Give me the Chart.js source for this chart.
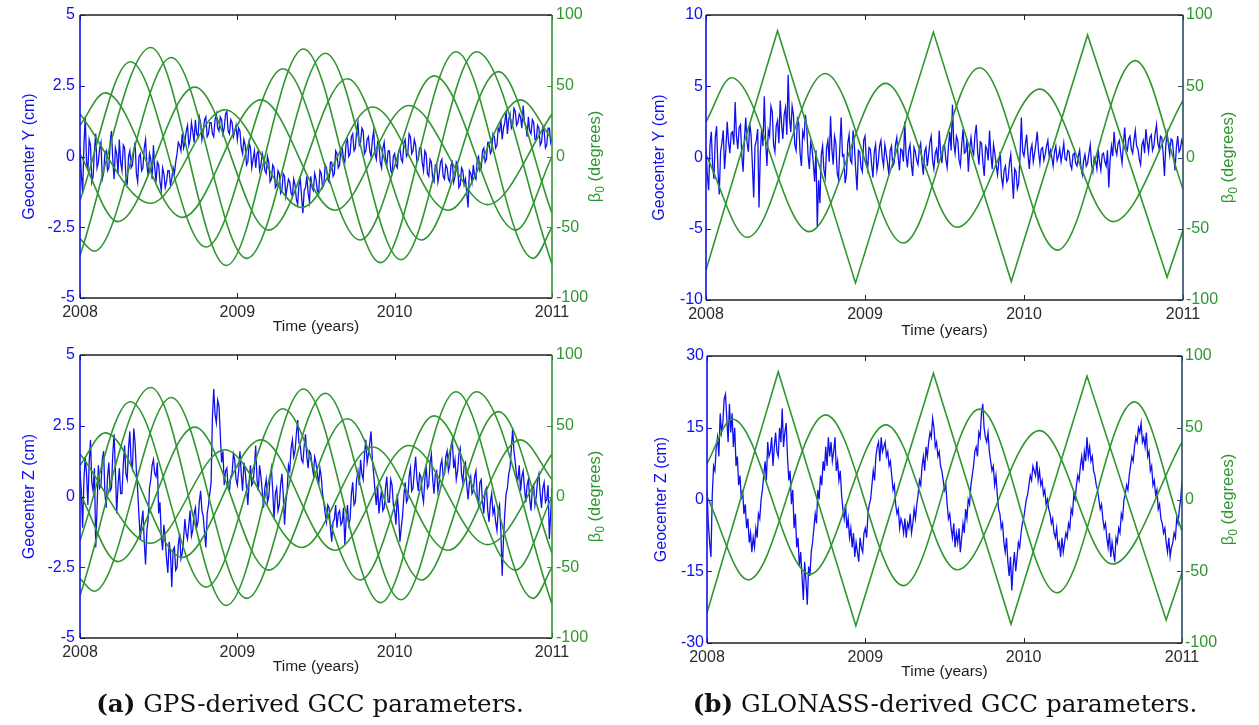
<!DOCTYPE html>
<html>
<head>
<meta charset="utf-8">
<script src="https://cdn.jsdelivr.net/npm/chart.js@4.4.1/dist/chart.umd.min.js"></script>
<style>
  body { margin: 0; background: #fff; }
  #wrap { position: relative; width: 1259px; height: 725px; overflow: hidden; background: #fff; }
  canvas { position: absolute; }
  .cap { position: absolute; top: 689px; line-height: 30px; font-family: "DejaVu Serif", serif; font-size: 24.6px; color: #111; text-align: center; white-space: nowrap; }
  .cap b { font-weight: bold; }
</style>
</head>
<body>
<div id="wrap">
  <canvas id="gpsY" width="640" height="345" style="left:0;top:0"></canvas>
  <canvas id="gpsZ" width="640" height="345" style="left:0;top:340px"></canvas>
  <canvas id="gloY" width="619" height="345" style="left:640px;top:0"></canvas>
  <canvas id="gloZ" width="619" height="345" style="left:640px;top:340px"></canvas>
  <div class="cap" style="left:0;width:620px"><b>(a)</b> GPS-derived GCC parameters.</div>
  <div class="cap" style="left:630px;width:630px"><b>(b)</b> GLONASS-derived GCC parameters.</div>
</div>
<script>
// time axis: one value every 1/120 year from 2008.0 to 2011.0
const startYear = 2008;
const stepsPerYear = 120;

// GPS geocenter Y (cm)
const gpsGeoY = [
  0.3, -0.6, -1.3, 0.4, 1.4, -0.2, -0.5, 0.6, 0.4, -0.9, -0.7, 0.2, 0.8, -0.4, -0.2, 0.3, 0.5, -0.8, -0.6, 0.1,
  0.2, -0.5, -0.4, 0.5, 0.9, -0.1, -0.8, 0.3, 0.1, -0.6, 0.6, -0.2, -0.5, 0.4, 0.3, -0.7, -1.0, 0.0, 0.2, -0.4,
  -0.3, 0.2, 0.5, -0.6, -0.9, 0.0, 0.1, -0.5, -0.4, 0.3, 0.6, -0.3, -0.7, 0.1, -0.1, -0.8, 0.4, -0.4, -0.9, -0.2,
  -0.3, -0.9, -1.2, -0.4, -0.6, -1.1, -0.9, -0.5, -0.5, -1.0, -0.8, -0.4, -0.6, -0.2, 0.1, 0.5, 0.4, 0.2, 0.8, 0.3,
  0.5, 0.9, 1.1, 0.4, 0.6, 1.2, 0.9, 0.5, 1.3, 0.8, 0.7, 1.4, 1.2, 0.6, 0.9, 1.3, 1.4, 0.7, 0.8, 1.2,
  1.2, 0.8, 0.7, 1.3, 1.5, 1.0, 0.9, 1.4, 1.3, 0.8, 1.0, 1.5, 1.6, 0.9, 0.8, 1.3, 1.2, 0.7, 0.9, 1.1,
  0.6, 1.0, 0.9, 0.3, 0.1, 0.6, 0.4, -0.3, -0.2, 0.5, 0.3, -0.4, -0.1, 0.2, -0.4, 0.1, 0.2, -0.5, -0.3, 0.1,
  -0.1, -0.5, -0.6, 0.0, -0.2, -0.9, -0.8, -0.3, -0.4, -1.1, -1.0, -0.5, -0.6, -1.3, -1.2, -0.6, -0.7, -1.4, -1.1, -0.8,
  -0.9, -1.3, -1.4, -0.8, -1.0, -1.5, -1.7, -1.0, -0.8, -1.4, -2.0, -1.2, -1.1, -0.7, -1.3, -1.6, -0.7, -1.1, -1.2, -0.6,
  -0.8, -1.2, -1.3, -0.5, -0.6, -1.1, -1.0, -0.3, -0.4, -0.8, -0.9, -0.2, -0.2, -0.7, -0.6, 0.2, 0.1, -0.4, -0.3, 0.3,
  0.3, -0.1, -0.2, 0.5, 0.6, 0.0, 0.1, 0.7, 0.8, 0.2, 0.3, 0.9, 1.2, 0.4, 0.5, 1.0, 0.9, 0.1, 0.2, 0.6,
  0.7, 0.2, 0.0, 0.6, 0.9, 0.1, -0.1, 0.5, 0.4, -0.2, -0.4, 0.3, 0.5, -0.1, -0.3, 0.2, 0.2, -0.5, -0.6, 0.0,
  0.1, -0.3, -0.4, 0.2, 0.3, -0.1, -0.2, 0.5, 0.6, 0.0, 0.1, 0.8, 0.7, 0.1, 0.2, 0.6, 0.4, -0.2, -0.1, 0.3,
  0.3, -0.2, -0.5, 0.2, 0.1, -0.6, -0.7, -0.1, -0.2, -0.8, -0.9, -0.3, -0.3, -0.9, -0.6, -0.2, -0.1, -0.7, -0.8, -0.3,
  -0.4, -0.8, -0.9, -0.3, -0.2, -0.9, -0.7, -0.2, -0.3, -1.1, -1.0, -0.4, -0.5, -1.0, -0.8, -1.3, -1.8, -0.5, -0.6, -0.9,
  -0.3, -0.7, -0.8, -0.1, 0.0, -0.5, -0.4, 0.2, 0.3, -0.2, -0.1, 0.5, 0.5, 0.1, 0.2, 0.8, 0.7, 0.3, 0.4, 1.0,
  0.9, 1.3, 0.6, 1.0, 1.2, 1.6, 0.8, 1.3, 1.5, 1.0, 1.1, 1.7, 1.6, 1.1, 1.2, 1.5, 1.4, 1.0, 1.8, 1.2,
  1.1, 0.7, 1.4, 0.9, 0.8, 1.3, 1.2, 0.6, 0.6, 1.1, 1.0, 0.4, 0.5, 1.0, 0.9, 0.3, 0.4, 1.0, 1.0, 0.5,
  0.7
];

// GPS geocenter Z (cm)
const gpsGeoZ = [
  0.9, 0.2, -1.1, 0.6, 1.4, 0.8, -0.3, 1.2, 2.0, 0.5, 0.2, 1.0, -1.8, -0.4, 1.1, 0.3, 0.4, 1.3, 1.6, 0.1,
  -0.4, 0.7, 1.2, 0.2, 0.3, 1.5, 2.2, 0.9, -0.6, 0.4, 1.0, 0.1, 0.1, 1.1, 1.8, 0.8, 0.6, 1.7, 2.3, 1.2,
  1.0, 2.4, 1.9, 0.9, 0.2, -0.7, -1.5, -0.9, -0.5, -1.6, -2.4, -1.2, -0.8, 0.3, 0.6, 1.1, 1.3, 0.8, 0.7, 1.2,
  -0.6, -0.2, -1.4, -1.9, -1.0, -1.5, -2.2, -2.7, -1.6, -2.0, -3.2, -1.9, -1.8, -2.6, -2.5, -1.7, -1.3, -2.2, -2.0, -1.5,
  -0.8, -1.3, -1.5, -1.0, -0.5, -1.4, -1.2, -0.6, -0.4, -1.1, -0.9, -0.2, 0.2, -0.5, -0.7, -1.3, -1.8, -0.6, -0.3, 0.1,
  0.5, 2.8, 3.8, 2.9, 2.6, 3.4, 3.2, 2.2, 1.2, 1.6, 0.4, 0.9, 1.0, 0.3, 0.2, 0.7, 0.8, 1.5, 1.3, 0.6,
  0.4, 0.9, 1.6, 0.8, 0.2, 1.2, 0.9, 0.3, -0.3, 0.5, 1.1, 0.4, 0.5, 1.0, 1.8, 0.6, 0.2, 1.1, 0.7, 0.2,
  -0.4, 0.3, 0.6, -0.2, 0.0, 0.7, 1.0, 0.2, -0.8, 0.1, 0.3, -0.5, -0.3, 0.4, 0.8, 0.1, -1.0, -0.2, 0.2, 1.1,
  0.9, 1.7, 2.0, 1.4, 1.6, 2.2, 2.7, 1.9, 1.8, 1.3, 1.2, 1.8, 2.2, 1.4, 1.0, 1.6, 1.5, 1.1, 0.8, 1.4,
  1.2, 0.8, 0.4, 1.0, 0.7, 0.1, -0.2, -0.6, -0.9, -0.3, -0.4, -1.1, -1.6, -0.9, -0.8, -0.3, -1.1, -0.6, -0.5, -1.0,
  -0.9, -0.4, -1.7, -0.8, -0.3, -1.0, -0.8, 0.1, 0.5, -0.3, -0.2, 0.6, 0.9, 0.4, 1.3, 0.8, 0.6, 1.5, 2.0, 1.2,
  1.5, 1.9, 2.3, 1.3, 0.8, 0.2, -0.3, 0.4, -0.6, -0.1, 0.2, -0.5, -0.4, 0.3, 0.7, -0.2, -0.2, 0.6, 0.4, -0.3,
  -0.5, -1.0, 0.1, -0.6, -1.6, -1.1, -0.7, 0.0, 0.5, -0.2, -0.1, 0.7, 1.0, 0.2, 0.3, 0.9, 1.4, 0.6, 0.2, 0.8,
  0.7, 0.1, -0.2, 0.6, 1.1, 0.3, 0.4, 1.2, 1.5, 0.6, 0.1, 0.8, 0.9, 0.2, 0.5, 1.1, 1.3, 0.7, 0.8, 1.4,
  1.6, 0.9, 1.1, 1.8, 2.0, 1.0, 1.3, 0.6, 0.9, 1.5, 1.7, 0.8, 0.5, 1.1, 1.2, 0.4, -0.1, 0.5, 0.7, 0.1,
  0.2, 0.7, 0.9, 0.0, -0.3, 0.5, 0.6, -0.2, -0.6, 0.2, 0.3, -0.5, -0.9, -0.2, 0.1, -0.6, -0.4, -0.9, -1.2, -0.5,
  -0.3, -1.2, -2.8, -1.5, -0.6, 0.1, 0.3, 0.8, 1.0, 1.7, 2.4, 1.6, 1.2, 0.7, 0.6, 1.1, 0.2, 0.7, 0.9, 0.3,
  -0.2, 0.4, 0.6, -0.1, -0.5, 0.3, 0.4, -0.3, 0.0, 0.6, 0.8, 0.1, -0.4, 0.3, 0.5, -0.2, -0.1, 0.4, -1.5, -0.6,
  0.3
];

// GLONASS geocenter Y (cm)
const gloGeoY = [
  0.5, -1.2, -2.3, 0.9, 1.8, -0.6, -1.5, 1.4, 2.2, -0.8, -2.6, 0.4, 1.0, 1.9, -0.8, 0.6, 2.5, 1.1, 0.3, 1.7,
  1.8, 0.9, 3.9, 1.5, 0.6, 2.1, 2.3, 0.2, -1.0, 1.3, 2.8, 1.0, 0.4, 2.4, 1.6, -0.5, -2.8, 0.8, 1.2, 2.0,
  -3.5, 0.3, 2.0, 0.8, 4.3, 1.1, -0.6, 1.9, 1.5, 3.6, 3.2, 0.9, 0.4, 2.2, 2.6, 1.0, 4.0, 2.4, 1.3, 3.0,
  3.5, 1.6, 5.8, 2.8, 1.8, 3.6, 3.0, 0.9, 0.5, 2.7, 2.4, 0.3, -0.6, 1.8, 1.4, 3.0, 2.2, 0.2, -0.8, 1.1,
  0.6, -0.4, -1.7, 0.5, -4.9, -1.6, -3.2, 0.2, 0.8, -0.9, -1.4, 0.7, 1.2, -0.3, 2.9, 0.6, -0.5, 1.5, 1.0, -1.1,
  -1.5, 0.7, 2.8, 0.1, 0.2, -1.8, -1.2, 1.0, 1.6, -0.2, -0.4, 1.9, 0.8, -0.9, -2.3, 0.5, 0.4, -0.7, -1.0, 1.2,
  1.5, -0.2, -0.8, 0.7, 0.6, -0.5, -1.4, 0.4, 0.9, -0.9, -0.3, 0.8, 1.2, 0.0, -0.6, 0.9, 0.3, -0.4, -1.2, 0.5,
  0.8, -0.6, -0.4, 0.9, 1.4, 0.1, -0.9, 0.6, 0.5, -0.3, 2.5, 0.2, -0.7, 0.5, 0.9, -0.5, -1.3, 0.7, 0.4, -0.2,
  -0.5, 0.6, 1.0, -0.3, -1.2, 0.4, 0.7, -0.6, 0.2, 1.1, 1.5, -0.2, -0.8, 0.3, 0.6, -0.4, 1.9, 0.5, -0.4, 0.8,
  0.9, -0.1, -0.7, 0.8, 1.8, 0.5, 3.7, 1.0, 0.3, 1.5, 1.2, -0.2, -0.6, 0.9, 2.0, 0.3, 0.4, 1.3, -1.0, 0.6,
  1.4, 0.5, 0.2, 1.6, 2.3, 0.4, -0.5, 1.1, 1.0, -0.4, -1.3, 0.8, 0.6, -0.2, 1.9, 0.2, -0.8, 0.9, 0.3, -0.5,
  -1.2, -0.3, 0.4, -1.4, -2.0, -0.9, -0.6, -1.7, -1.5, -0.4, 0.2, -1.3, -2.9, -0.8, -1.0, -2.2, -1.8, 0.1, 2.8, 0.4,
  0.1, 0.9, 1.6, 0.2, -0.8, 0.5, 0.9, -0.3, 0.3, 1.0, 1.8, 0.4, -0.4, 0.6, 0.7, -0.2, 0.2, 0.8, 1.2, 0.1,
  0.5, 0.0, -0.6, 0.4, 0.8, -0.2, 0.1, 0.6, -0.3, 0.3, 1.0, -0.1, -0.2, 0.5, 0.4, -0.5, -0.8, 0.2, 0.3, -0.4,
  -0.6, 0.1, 0.5, -0.7, -1.2, -0.2, 0.2, -0.6, -0.4, 0.3, 0.9, -0.5, -1.0, 0.0, -0.2, -0.8, 0.6, -0.3, -0.9, 0.2,
  0.3, -0.3, -0.6, 0.5, -2.1, -0.2, 0.8, 0.1, 1.8, 0.6, 0.2, 1.0, 1.2, 0.3, -0.4, 0.9, 2.1, 0.7, 0.5, 1.3,
  1.5, 0.6, 0.3, 1.2, 1.9, 0.8, 0.6, -0.1, -0.5, 0.9, 1.2, 0.3, 2.0, 1.1, 0.4, 1.4, 1.6, 0.5, 0.8, 1.7,
  2.3, 1.0, 0.6, 1.5, 1.4, 0.3, -1.3, 0.8, 1.7, 0.9, 0.2, 1.3, 1.2, 0.1, -0.9, 0.7, 1.5, 0.4, 0.6, 1.2,
  0.9
];

// GLONASS geocenter Z (cm)
const gloGeoZ = [
  2, -5, -9, -12, 1, 7, 6, 11, 13, 9, 18, 14, 16, 21, 22, 17, 12, 20, 14, 18,
  11, 15, 7, 9, 3, 5, 0, 2, -3, -1, -6, -4, -9, -7, -11, -8, -10, -6, -8, -3,
  -4, 0, 2, 5, 8, 4, 12, 9, 10, 13, 7, 11, 14, 10, 9, 15, 12, 19, 11, 14,
  16, 9, 4, 6, -1, 2, -6, -3, -10, -8, -14, -11, -16, -21, -13, -17, -22, -14, -16, -11,
  -9, -6, -3, -5, 2, 0, 5, 3, 8, 6, 11, 7, 13, 9, 12, 8, 10, 13, 6, 8,
  4, 6, 1, -2, -4, -1, -6, -4, -8, -6, -10, -7, -12, -9, -11, -13, -8, -10, -11, -7,
  -6, -8, -3, -1, 0, 3, 6, 4, 9, 11, 12, 8, 13, 10, 11, 12, 9, 10, 7, 8,
  5, 2, 3, -1, -3, -2, -6, -4, -5, -7, -4, -8, -5, -6, -3, -7, -5, -2, -4, -1,
  1, 4, 3, 7, 9, 6, 11, 9, 12, 14, 13, 17, 15, 11, 12, 9, 10, 7, 6, 4,
  2, 3, -1, -4, -3, -6, -8, -5, -10, -7, -9, -6, -11, -8, -5, -7, -2, -4, 0, -1,
  3, 5, 7, 10, 11, 9, 14, 13, 18, 20, 15, 13, 12, 14, 10, 8, 6, 7, 3, 5,
  1, -2, -3, -6, -5, -9, -11, -8, -13, -16, -12, -19, -14, -11, -15, -12, -9, -10, -7, -5,
  -4, -2, 0, 1, 3, 5, 4, 7, 6, 5, 8, 4, 6, 3, 4, 1, 2, -1, 0, -2,
  -3, -5, -4, -7, -8, -6, -10, -9, -12, -8, -11, -9, -7, -8, -5, -6, -2, -3, 1, 0,
  3, 5, 4, 7, 9, 6, 10, 8, 13, 9, 11, 8, 9, 6, 5, 3, 2, 0, -2, -1,
  -4, -6, -5, -8, -10, -7, -12, -9, -11, -13, -8, -9, -6, -7, -3, -4, 0, 1, 3, 2,
  5, 7, 9, 8, 11, 13, 12, 15, 14, 16, 12, 13, 11, 14, 9, 10, 6, 7, 3, 4,
  1, 2, -2, -1, -4, -5, -7, -6, -9, -11, -8, -12, -10, -9, -7, -8, -4, -5, -2, 0,
  4
];

// beta angle (degrees) of the orbital planes: [year, beta] at the turning points
const gpsBetaA = [[2008, 22], [2008.16, 45], [2008.65, -43], [2009.15, 40], [2009.62, -38], [2010.09, 36], [2010.59, -34], [2011, 30]];
const gpsBetaB = [[2008, -31], [2008.32, 67], [2008.80, -64], [2009.29, 62], [2009.78, -59], [2010.25, 57], [2010.77, -52], [2011, 0]];
const gpsBetaC = [[2008, -70], [2008.45, 77], [2008.93, -77], [2009.42, 76], [2009.91, -75], [2010.39, 74], [2010.88, -72], [2011, -50]];
const gpsBetaD = [[2008, -58], [2008.09, -67], [2008.58, 70], [2009.06, -72], [2009.56, 73], [2010.04, -73], [2010.52, 74], [2011, -76]];
const gpsBetaE = [[2008, 2], [2008.24, -46], [2008.73, 49], [2009.20, -52], [2009.70, 55], [2010.17, -59], [2010.66, 60], [2011, -40]];
const gpsBetaF = [[2008, 30], [2008.45, -33], [2008.92, 33], [2009.41, -36], [2009.86, 35], [2010.34, -38], [2010.80, 40], [2011, 12]];

const gloBetaA = [[2008, -79], [2008.45, 89], [2008.94, -88], [2009.43, 88], [2009.92, -87], [2010.40, 86], [2010.90, -84], [2011, -51]];
const gloBetaB = [[2008, 25], [2008.16, 56], [2008.65, -52], [2009.13, 52], [2009.58, -49], [2010.10, 48], [2010.56, -45], [2011, 40]];
const gloBetaC = [[2008, 2], [2008.26, -56], [2008.75, 59], [2009.24, -60], [2009.72, 63], [2010.21, -65], [2010.70, 68], [2011, -22]];

const xTicks = [2008, 2009, 2010, 2011];

const BLUE = '#1010ee';
const GREEN = '#2f962f';
const FONT = '"Liberation Sans", Arial, sans-serif';

function seriesPoints(values) {
  return values.map((v, i) => ({ x: startYear + i / stepsPerYear, y: v }));
}
function betaPoints(pairs) {
  return pairs.map(p => ({ x: p[0], y: p[1] }));
}

function framePlugin(rightColor, rightTitleX) {
  return {
    id: 'frame',
    afterDraw(chart) {
      const { ctx, chartArea: a } = chart;
      const xs = chart.scales.x, yl = chart.scales.y, yr = chart.scales.y2;
      ctx.save();
      ctx.lineWidth = 1;
      ctx.strokeStyle = '#222';
      ctx.beginPath();
      xs.ticks.forEach(t => {
        const px = Math.round(xs.getPixelForValue(t.value)) + 0.5;
        ctx.moveTo(px, a.bottom); ctx.lineTo(px, a.bottom - 5);
        ctx.moveTo(px, a.top); ctx.lineTo(px, a.top + 5);
      });
      ctx.stroke();
      ctx.strokeStyle = BLUE;
      ctx.beginPath();
      yl.ticks.forEach(t => {
        const py = Math.round(yl.getPixelForValue(t.value)) + 0.5;
        ctx.moveTo(a.left, py); ctx.lineTo(a.left + 5, py);
      });
      ctx.stroke();
      ctx.strokeStyle = rightColor;
      ctx.beginPath();
      yr.ticks.forEach(t => {
        const py = Math.round(yr.getPixelForValue(t.value)) + 0.5;
        ctx.moveTo(a.right, py); ctx.lineTo(a.right - 5, py);
      });
      ctx.stroke();

      ctx.lineWidth = 1.6;
      ctx.strokeStyle = '#222';
      ctx.beginPath();
      ctx.moveTo(a.left, a.top); ctx.lineTo(a.right, a.top);
      ctx.moveTo(a.left, a.bottom); ctx.lineTo(a.right, a.bottom);
      ctx.stroke();
      ctx.strokeStyle = BLUE;
      ctx.beginPath(); ctx.moveTo(a.left, a.top); ctx.lineTo(a.left, a.bottom); ctx.stroke();
      ctx.strokeStyle = rightColor;
      ctx.beginPath(); ctx.moveTo(a.right, a.top); ctx.lineTo(a.right, a.bottom); ctx.stroke();

      // right axis title, beta with subscript 0, read bottom to top
      ctx.fillStyle = GREEN;
      ctx.translate(rightTitleX, (a.top + a.bottom) / 2);
      ctx.rotate(-Math.PI / 2);
      ctx.textBaseline = 'middle';
      ctx.textAlign = 'left';
      const big = '16.5px ' + FONT, small = '12px ' + FONT;
      ctx.font = big;
      const wb = ctx.measureText('\u03b2').width;
      const wr = ctx.measureText(' (degrees)').width;
      ctx.font = small;
      const ws = ctx.measureText('0').width;
      const x0 = -(wb + ws + wr) / 2;
      ctx.font = big; ctx.fillText('\u03b2', x0, 0);
      ctx.font = small; ctx.fillText('0', x0 + wb, 5.5);
      ctx.font = big; ctx.fillText(' (degrees)', x0 + wb + ws, 0);
      ctx.restore();
    }
  };
}

function makePanel(id, p) {
  const canvas = document.getElementById(id);
  const W = canvas.width, H = canvas.height;
  const greens = p.betas.map((b, k) => ({
    data: betaPoints(b),
    borderColor: GREEN,
    borderWidth: 1.6,
    pointRadius: 0,
    yAxisID: 'y2',
    order: 0,
    cubicInterpolationMode: p.sharp && p.sharp[k] ? 'default' : 'monotone',
    tension: 0
  }));
  const blue = {
    data: seriesPoints(p.values),
    borderColor: BLUE,
    borderWidth: 1.3,
    pointRadius: 0,
    tension: 0,
    yAxisID: 'y',
    order: 1
  };
  new Chart(canvas, {
    type: 'line',
    data: { datasets: greens.concat([blue]) },
    plugins: [framePlugin(p.rightColor, p.rightTitleX)],
    options: {
      responsive: false,
      animation: false,
      events: [],
      layout: { padding: { top: p.area.top, left: 0, right: 0, bottom: 0 } },
      plugins: { legend: { display: false }, tooltip: { enabled: false } },
      scales: {
        x: {
          type: 'linear', min: 2008, max: 2011,
          afterBuildTicks: s => { s.ticks = xTicks.map(v => ({ value: v })); },
          afterFit: s => { s.height = H - p.area.bottom; },
          grid: { display: false, drawTicks: false },
          border: { display: false },
          ticks: { color: '#2a2a2a', font: { family: FONT, size: 16 }, padding: 5, maxRotation: 0, autoSkip: false, callback: v => String(v) },
          title: { display: true, text: 'Time (years)', color: '#1e1e1e', font: { family: FONT, size: 15.5 }, padding: { top: 0, bottom: H - p.xTitleY - 9.3 } }
        },
        y: {
          position: 'left', min: p.yMin, max: p.yMax,
          afterBuildTicks: s => { s.ticks = p.yTicks.map(v => ({ value: v })); },
          afterFit: s => { s.width = p.area.left; },
          grid: { display: false, drawTicks: false },
          border: { display: false },
          ticks: { color: BLUE, font: { family: FONT, size: 16 }, padding: p.yPad, callback: v => String(v) },
          title: { display: true, text: p.yTitle, color: BLUE, font: { family: FONT, size: 16 }, padding: { top: p.yTitleX - 9.6, bottom: 0 } }
        },
        y2: {
          position: 'right', min: -100, max: 100,
          afterBuildTicks: s => { s.ticks = [-100, -50, 0, 50, 100].map(v => ({ value: v })); },
          afterFit: s => { s.width = W - p.area.right; },
          grid: { display: false, drawTicks: false },
          border: { display: false },
          ticks: { color: GREEN, font: { family: FONT, size: 16 }, padding: p.y2Pad, callback: v => String(v) }
        }
      }
    }
  });
}

const gpsBetas = [gpsBetaA, gpsBetaB, gpsBetaC, gpsBetaD, gpsBetaE, gpsBetaF];
const gloBetas = [gloBetaA, gloBetaB, gloBetaC];

makePanel('gpsY', {
  values: gpsGeoY, betas: gpsBetas, yMin: -5, yMax: 5, yTicks: [-5, -2.5, 0, 2.5, 5],
  yTitle: 'Geocenter Y (cm)', area: { left: 80, right: 552, top: 15, bottom: 298 },
  xTitleY: 327, yTitleX: 30, rightTitleX: 595, yPad: 5, y2Pad: 4, rightColor: GREEN
});
makePanel('gpsZ', {
  values: gpsGeoZ, betas: gpsBetas, yMin: -5, yMax: 5, yTicks: [-5, -2.5, 0, 2.5, 5],
  yTitle: 'Geocenter Z (cm)', area: { left: 80, right: 552, top: 15, bottom: 298 },
  xTitleY: 327, yTitleX: 30, rightTitleX: 595, yPad: 5, y2Pad: 4, rightColor: GREEN
});
makePanel('gloY', {
  values: gloGeoY, betas: gloBetas, sharp: [true, false, false], yMin: -10, yMax: 10, yTicks: [-10, -5, 0, 5, 10],
  yTitle: 'Geocenter Y (cm)', area: { left: 66, right: 543, top: 15, bottom: 300 },
  xTitleY: 331, yTitleX: 20, rightTitleX: 588, yPad: 3, y2Pad: 3, rightColor: '#2b4a62'
});
makePanel('gloZ', {
  values: gloGeoZ, betas: gloBetas, sharp: [true, false, false], yMin: -30, yMax: 30, yTicks: [-30, -15, 0, 15, 30],
  yTitle: 'Geocenter Z (cm)', area: { left: 67, right: 542, top: 16, bottom: 303 },
  xTitleY: 332, yTitleX: 22, rightTitleX: 588, yPad: 3, y2Pad: 3, rightColor: '#2b4a62'
});
</script>
</body>
</html>
